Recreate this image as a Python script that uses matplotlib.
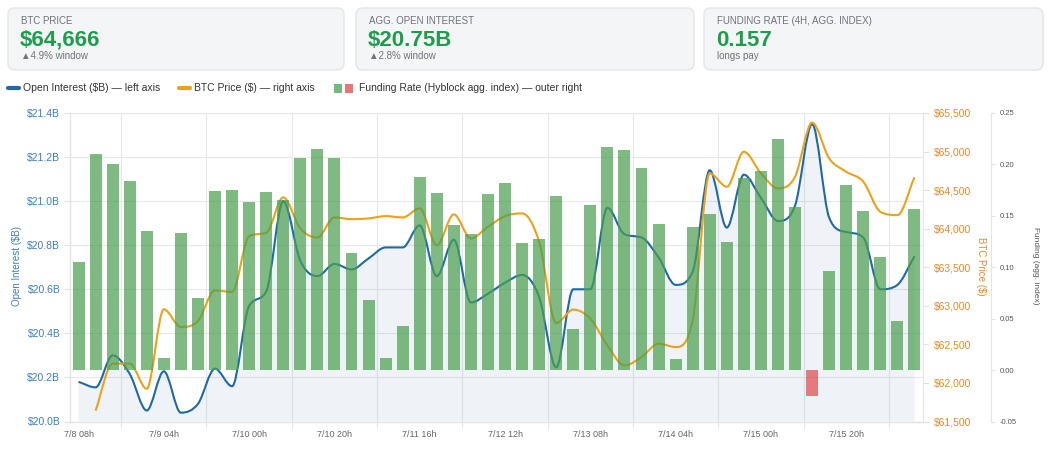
import matplotlib
matplotlib.use('Agg')
import matplotlib.pyplot as plt
from matplotlib.path import Path
from matplotlib.patches import PathPatch, FancyBboxPatch, Rectangle
from matplotlib.ticker import FuncFormatter, MultipleLocator
import numpy as np

plt.rcParams['font.family'] = ['Liberation Sans', 'DejaVu Sans']

# ---- data (one point / bar every 4h, from 7/8 08h) ----
tick_labels = ['7/8 08h', '7/9 04h', '7/10 00h', '7/10 20h', '7/11 16h',
               '7/12 12h', '7/13 08h', '7/14 04h', '7/15 00h', '7/15 20h']

open_interest = [20.18, 20.155, 20.30, 20.216, 20.05, 20.228, 20.04, 20.08, 20.24, 20.16,
                 20.525, 20.59, 21.00, 20.73, 20.66, 20.715, 20.69, 20.74, 20.79, 20.79,
                 20.89, 20.66, 20.825, 20.54, 20.58, 20.63, 20.665, 20.565, 20.246, 20.60,
                 20.60, 20.97, 20.85, 20.835, 20.745, 20.62, 20.68, 21.14, 20.88, 21.12,
                 21.015, 20.91, 20.98, 21.35, 20.925, 20.86, 20.835, 20.60, 20.62, 20.75]

btc_price = [np.nan, 61640, 62250, 62250, 61925, 62955, 62725, 62803, 63200, 63180,
             63903, 63946, 64406, 64003, 63886, 64146, 64124, 64133, 64163, 64146,
             64263, 63786, 64185, 63873, 64024, 64163, 64198, 63829, 62777, 62951,
             62834, 62487, 62227, 62335, 62509, 62465, 62812, 64718, 64544, 64998,
             64718, 64523, 64674, 65375, 64912, 64739, 64609, 64219, 64176, 64666]

funding = [0.105, 0.210, 0.200, 0.184, 0.135, 0.012, 0.133, 0.070, 0.174, 0.175,
           0.163, 0.173, 0.165, 0.206, 0.215, 0.206, 0.114, 0.068, 0.012, 0.043,
           0.188, 0.172, 0.141, 0.132, 0.171, 0.182, 0.124, 0.127, 0.169, 0.040,
           0.161, 0.217, 0.214, 0.197, 0.142, 0.011, 0.139, 0.152, 0.125, 0.187,
           0.194, 0.225, 0.159, -0.025, 0.096, 0.180, 0.155, 0.110, 0.048, 0.157]

cards = [('BTC PRICE', '$64,666', '\u25B24.9% window'),
         ('AGG. OPEN INTEREST', '$20.75B', '\u25B22.8% window'),
         ('FUNDING RATE (4H, AGG. INDEX)', '0.157', 'longs pay')]

BLUE = '#1f6aa5'
ORANGE = '#eba21a'
GREEN = '#4ca050'
RED = '#e04a4f'
W, H = 1051, 450


def smooth_path(x, y, base=None):
    # monotone cubic bezier through the points (like chart.js "monotone")
    x = np.asarray(x, float); y = np.asarray(y, float)
    d = np.diff(y) / np.diff(x)
    m = np.zeros(len(x))
    m[0], m[-1] = d[0], d[-1]
    for i in range(1, len(x) - 1):
        m[i] = 0 if d[i - 1] * d[i] <= 0 else (d[i - 1] + d[i]) / 2
    for k in range(len(d)):
        if d[k] == 0:
            m[k] = m[k + 1] = 0
            continue
        a, b = m[k] / d[k], m[k + 1] / d[k]
        s = a * a + b * b
        if s > 9:
            t = 3 / np.sqrt(s)
            m[k], m[k + 1] = t * a * d[k], t * b * d[k]
    verts = [(x[0], y[0])]
    codes = [Path.MOVETO]
    for i in range(len(x) - 1):
        h = x[i + 1] - x[i]
        verts += [(x[i] + h / 3, y[i] + m[i] * h / 3),
                  (x[i + 1] - h / 3, y[i + 1] - m[i + 1] * h / 3),
                  (x[i + 1], y[i + 1])]
        codes += [Path.CURVE4] * 3
    if base is not None:
        verts += [(x[-1], base), (x[0], base), (x[0], y[0])]
        codes += [Path.LINETO, Path.LINETO, Path.CLOSEPOLY]
    return Path(verts, codes)


fig = plt.figure(figsize=(W / 100, H / 100), dpi=100)

# background layer in pixel coords for cards + legend
bg = fig.add_axes([0, 0, 1, 1])
bg.set_xlim(0, W); bg.set_ylim(H, 0); bg.set_axis_off()

card_x = [8, 356, 704]
card_w = [336, 338, 339]
for (title, value, sub), cx, cw in zip(cards, card_x, card_w):
    bg.add_patch(FancyBboxPatch((cx, 8), cw, 62, boxstyle='round,pad=0,rounding_size=7',
                                fc='#f4f5f7', ec='#e3e5e8', lw=1))
    bg.text(cx + 13, 21, title, fontsize=7, color='#6f737a', va='center')
    bg.text(cx + 12, 40, value, fontsize=16, color='#1f9d4c', fontweight='bold', va='center')
    bg.text(cx + 13, 56, sub, fontsize=7, color='#6f737a', va='center')

# legend row
bg.plot([8, 19], [88, 88], color=BLUE, lw=3, solid_capstyle='round')
bg.text(23, 88, 'Open Interest ($B) \u2014 left axis', fontsize=7.5, color='#333', va='center')
bg.plot([179, 190], [88, 88], color=ORANGE, lw=3, solid_capstyle='round')
bg.text(194, 88, 'BTC Price ($) \u2014 right axis', fontsize=7.5, color='#333', va='center')
bg.add_patch(Rectangle((334, 84), 8, 9, fc=GREEN, alpha=0.75, lw=0))
bg.add_patch(Rectangle((345, 84), 8, 9, fc=RED, alpha=0.75, lw=0))
bg.text(359, 88, 'Funding Rate (Hyblock agg. index) \u2014 outer right', fontsize=7.5,
        color='#333', va='center')

# ---- main chart ----
left, right, top, bottom = 70, 923, 113, 421.5
ax = fig.add_axes([left / W, 1 - bottom / H, (right - left) / W, (bottom - top) / H])
ax2 = ax.twinx()
ax3 = ax.twinx()

idx = np.arange(len(open_interest))
ax.set_xlim(-0.5, len(idx) - 0.5)
ax.set_ylim(20.0, 21.4)
ax2.set_ylim(61500, 65500)
ax3.set_ylim(-0.05, 0.25)

# OI line with light fill
ax.add_patch(PathPatch(smooth_path(idx, open_interest, base=20.0), fc='#3566b0', alpha=0.08,
                       lw=0, zorder=1))
ax.add_patch(PathPatch(smooth_path(idx, open_interest), fc='none', ec=BLUE, lw=1.5, zorder=3))

# BTC price line (first value missing)
bp = np.array(btc_price)
ok = ~np.isnan(bp)
ax2.add_patch(PathPatch(smooth_path(idx[ok], bp[ok]), fc='none', ec=ORANGE, lw=1.5, zorder=3))

# funding bars on top, translucent
cols = [GREEN if v >= 0 else RED for v in funding]
ax3.bar(idx, funding, width=0.7, color=cols, alpha=0.72, zorder=4)

# grid and ticks
ax.set_xticks(idx[::5])
ax.set_xticklabels(tick_labels)
ax.set_xticks(np.arange(2.5, len(idx), 5), minor=True)
ax.grid(axis='x', which='minor', color='#e6e8eb', lw=0.8)
ax.grid(axis='y', which='major', color='#e6e8eb', lw=0.8)
ax.set_axisbelow(True)
ax.tick_params(axis='x', which='major', length=0, labelsize=6.5, labelcolor='#666', pad=6)
ax.tick_params(axis='x', which='minor', length=5, color='#e0e2e5')
ax.yaxis.set_major_locator(MultipleLocator(0.2))
ax.yaxis.set_major_formatter(FuncFormatter(lambda v, p: f'${v:.1f}B'))
ax.tick_params(axis='y', length=4, color='#e0e2e5', labelsize=7.5, labelcolor='#3a7fc1', pad=3)

ax2.yaxis.set_major_locator(MultipleLocator(500))
ax2.yaxis.set_major_formatter(FuncFormatter(lambda v, p: f'${v:,.0f}'))
ax2.tick_params(axis='y', length=4, color='#e0e2e5', labelsize=7.5, labelcolor='#e5892a', pad=4)

ax3.spines['right'].set_position(('axes', (991 - left) / (right - left)))
ax3.yaxis.set_major_locator(MultipleLocator(0.05))
ax3.yaxis.set_major_formatter(FuncFormatter(lambda v, p: f'{v:.2f}'))
ax3.tick_params(axis='y', length=3, color='#e0e2e5', labelsize=5.5, labelcolor='#555', pad=3)

for a in (ax, ax2, ax3):
    for s in a.spines.values():
        s.set_color('#e3e5e8')
        s.set_linewidth(0.8)
ax2.spines['top'].set_visible(False)
ax3.spines['top'].set_visible(False)
ax.spines['top'].set_visible(False)
ax.spines['bottom'].set_color('#d5d8dc')

fig.text(17 / W, 1 - 266 / H, 'Open Interest ($B)', rotation=90, fontsize=7,
         color='#3a7fc1', ha='center', va='center')
fig.text(981 / W, 1 - 266 / H, 'BTC Price ($)', rotation=-90, fontsize=7,
         color='#e5892a', ha='center', va='center')
fig.text(1036 / W, 1 - 266 / H, 'Funding (agg. index)', rotation=-90, fontsize=6,
         color='#555', ha='center', va='center')

fig.savefig('out.png', dpi=100)
